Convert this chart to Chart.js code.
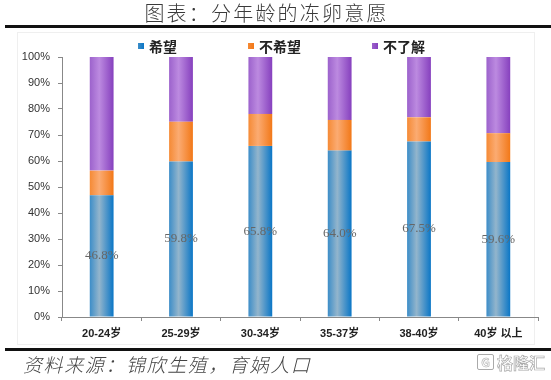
<!DOCTYPE html>
<html><head><meta charset="utf-8">
<script src="https://cdn.jsdelivr.net/npm/chart.js@4/dist/chart.umd.min.js"></script>
<style>
html,body{margin:0;padding:0;background:#fff;}
#wrap{position:relative;width:551px;height:380px;overflow:hidden;font-family:"Noto Sans CJK SC","Noto Sans",sans-serif;}
#c{position:absolute;left:0;top:0;}
#title{position:absolute;left:0;top:0;width:533px;text-align:center;font-size:20px;letter-spacing:2.2px;color:#3a3a3a;line-height:26px;font-weight:300;}
.rule{position:absolute;left:5px;width:546px;height:3px;background:#111;}
#box{position:absolute;left:17px;top:32px;width:518px;height:313px;border:1px solid #efefef;box-sizing:border-box;}
#legend{position:absolute;left:138px;top:36px;height:20px;display:flex;gap:71px;}
.li{display:flex;align-items:center;font-size:14px;font-weight:bold;color:#222;line-height:20px;}
.sw{width:6px;height:6px;margin-right:5px;}
#src{position:absolute;left:22px;top:352px;font-size:19px;letter-spacing:1.6px;color:#444;line-height:24px;font-weight:300;transform:skewX(-14deg);transform-origin:0 100%;}
#wm{position:absolute;left:477px;top:353px;display:flex;align-items:center;color:#fff;-webkit-text-stroke:0.7px #aaa;font-size:16px;font-weight:bold;line-height:18px;}
#wm .ic{display:inline-block;width:15px;height:14px;border:1.5px solid #aaa;border-radius:2px;font-size:12px;line-height:14px;text-align:center;margin-right:3px;-webkit-text-stroke:0.6px #aaa;}
</style></head>
<body><div id="wrap">
<div id="box"></div>
<canvas id="c" width="551" height="380"></canvas>
<div id="title">图表：分年龄的冻卵意愿</div>
<div class="rule" style="top:25px"></div>
<div id="legend"></div>
<div class="rule" style="top:348px"></div>
<div id="src">资料来源：锦欣生殖，育娲人口</div>
<div id="wm"><span class="ic">G</span>格隆汇</div>
</div>
<script>
const categories = ['20-24岁','25-29岁','30-34岁','35-37岁','38-40岁','40岁 以上'];
const seriesNames = ['希望','不希望','不了解'];
const hope = [46.8, 59.8, 65.8, 64.0, 67.5, 59.6];
const noHope = [9.5, 15.3, 12.3, 11.8, 9.3, 11.1];
const unknown = [43.7, 24.9, 21.9, 24.2, 23.2, 29.3];
const yTicks = [0,10,20,30,40,50,60,70,80,90,100];

const BAR_PCT = 0.3;
const palettes = [
  ['#3C8DC8','#93B5CC','#0A76C6'],
  ['#F58A35','#FBAB72','#F27818'],
  ['#9C62CC','#BC8AE0','#8640BE']
];
function grad(stops){
  return function(ctx){
    const chart = ctx.chart, ca = chart.chartArea;
    if (!ca || !chart.scales.x) return stops[1];
    const cx = chart.scales.x.getPixelForValue(ctx.dataIndex);
    const w = (ca.right - ca.left) / chart.data.labels.length * BAR_PCT;
    const g = chart.ctx.createLinearGradient(cx - w/2, 0, cx + w/2, 0);
    g.addColorStop(0, stops[0]); g.addColorStop(0.4, stops[1]); g.addColorStop(1, stops[2]);
    return g;
  };
}

// HTML legend
const lg = document.getElementById('legend');
seriesNames.forEach((n,i)=>{
  const d = document.createElement('div'); d.className='li';
  const s = document.createElement('span'); s.className='sw';
  s.style.background = 'linear-gradient(90deg,'+palettes[i][0]+','+palettes[i][2]+')';
  d.appendChild(s); d.appendChild(document.createTextNode(n)); lg.appendChild(d);
});

const labelPlugin = {
  id:'segLabels',
  afterDatasetsDraw(chart){
    const meta = chart.getDatasetMeta(0);
    const c = chart.ctx;
    c.save();
    c.font = '13px "Liberation Serif", "Times New Roman", serif';
    c.fillStyle = '#666';
    c.textAlign = 'center'; c.textBaseline = 'middle';
    meta.data.forEach((el,i)=>{
      c.fillText(hope[i].toFixed(1)+'%', el.x, (el.y + el.base)/2);
    });
    c.restore();
  }
};

new Chart(document.getElementById('c'), {
  type:'bar',
  data:{
    labels: categories,
    datasets:[
      {label:seriesNames[0], data:hope, backgroundColor:grad(palettes[0])},
      {label:seriesNames[1], data:noHope, backgroundColor:grad(palettes[1])},
      {label:seriesNames[2], data:unknown, backgroundColor:grad(palettes[2])}
    ]
  },
  options:{
    responsive:false, animation:false,
    datasets:{bar:{barPercentage:BAR_PCT, categoryPercentage:1, borderWidth:0}},
    layout:{padding:{left:0,right:13,top:57,bottom:33}},
    plugins:{legend:{display:false}, tooltip:{enabled:false}},
    scales:{
      x:{
        stacked:true,
        afterFit(s){ s.height = 30; },
        grid:{drawOnChartArea:false, offset:true, tickLength:4, color:'#888'},
        border:{display:true, color:'#888'},
        ticks:{color:'#222', padding:6, font:{family:'"Liberation Sans", "Noto Sans CJK SC", sans-serif', size:11, weight:'bold'}}
      },
      y:{
        stacked:true, min:0, max:100,
        afterFit(s){ s.width = 62; },
        afterBuildTicks(s){ s.ticks = yTicks.map(v=>({value:v})); },
        grid:{drawOnChartArea:false, tickLength:4, color:'#888'},
        border:{display:true, color:'#888'},
        ticks:{color:'#333', padding:8, font:{family:'"Liberation Sans", sans-serif', size:11}, callback:v=>v+'%'}
      }
    }
  },
  plugins:[labelPlugin]
});
</script>
</body></html>
